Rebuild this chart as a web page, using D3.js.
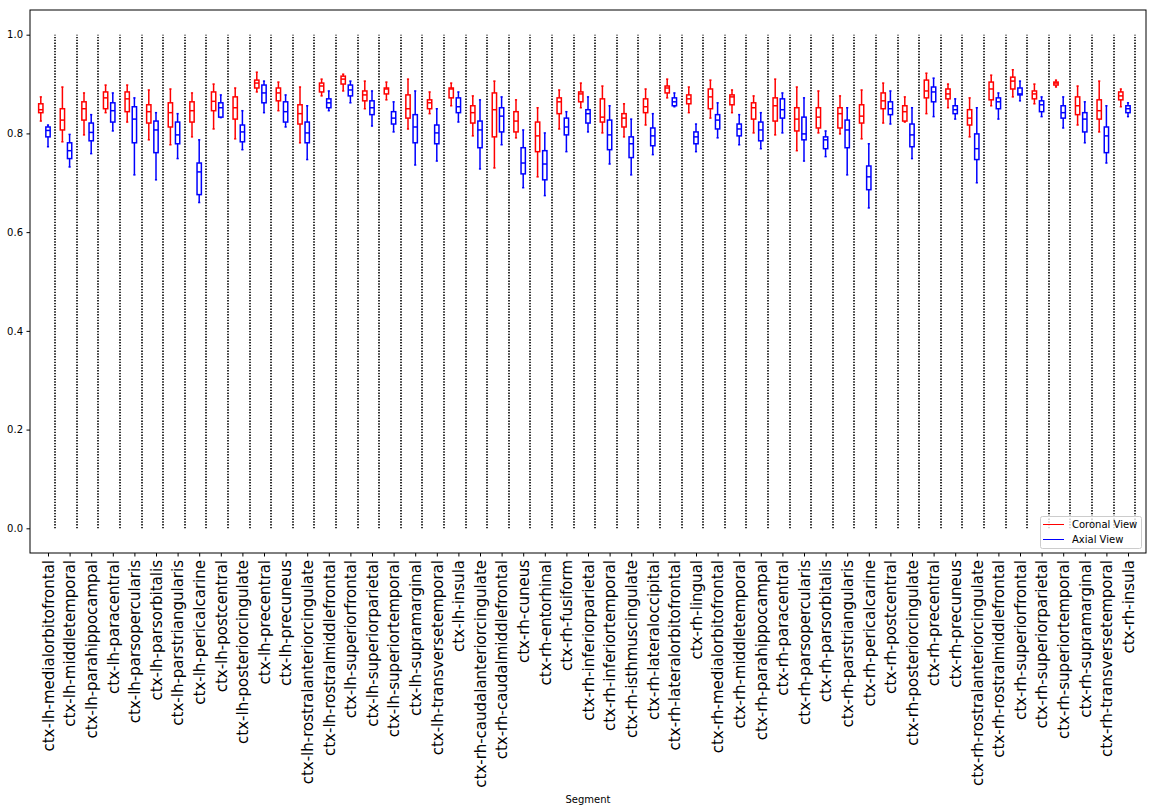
<!DOCTYPE html>
<html lang="en">
<head>
<meta charset="utf-8">
<title>Coronal vs Axial View</title>
<script src="https://d3js.org/d3.v7.min.js"></script>
<style>
    body {
        margin: 0;
        background: white;
    }
    svg {
        display: block;
        font-family: "DejaVu Sans", sans-serif;
    }
    .axis path {
        display: none;
    }
    .axis line {
        stroke: #000;
    }
</style>
</head>
<body>
<div id="chart"></div>
<script>
    var segments = [
        "ctx-lh-medialorbitofrontal", "ctx-lh-middletemporal", "ctx-lh-parahippocampal", "ctx-lh-paracentral",
        "ctx-lh-parsopercularis", "ctx-lh-parsorbitalis", "ctx-lh-parstriangularis", "ctx-lh-pericalcarine",
        "ctx-lh-postcentral", "ctx-lh-posteriorcingulate", "ctx-lh-precentral", "ctx-lh-precuneus",
        "ctx-lh-rostralanteriorcingulate", "ctx-lh-rostralmiddlefrontal", "ctx-lh-superiorfrontal",
        "ctx-lh-superiorparietal", "ctx-lh-superiortemporal", "ctx-lh-supramarginal", "ctx-lh-transversetemporal",
        "ctx-lh-insula", "ctx-rh-caudalanteriorcingulate", "ctx-rh-caudalmiddlefrontal", "ctx-rh-cuneus",
        "ctx-rh-entorhinal", "ctx-rh-fusiform", "ctx-rh-inferiorparietal", "ctx-rh-inferiortemporal",
        "ctx-rh-isthmuscingulate", "ctx-rh-lateraloccipital", "ctx-rh-lateralorbitofrontal", "ctx-rh-lingual",
        "ctx-rh-medialorbitofrontal", "ctx-rh-middletemporal", "ctx-rh-parahippocampal", "ctx-rh-paracentral",
        "ctx-rh-parsopercularis", "ctx-rh-parsorbitalis", "ctx-rh-parstriangularis", "ctx-rh-pericalcarine",
        "ctx-rh-postcentral", "ctx-rh-posteriorcingulate", "ctx-rh-precentral", "ctx-rh-precuneus",
        "ctx-rh-rostralanteriorcingulate", "ctx-rh-rostralmiddlefrontal", "ctx-rh-superiorfrontal",
        "ctx-rh-superiorparietal", "ctx-rh-superiortemporal", "ctx-rh-supramarginal",
        "ctx-rh-transversetemporal", "ctx-rh-insula"
    ];

    // [whisker low, q1, median, q3, whisker high]
    var coronal = [
        [0.825, 0.842, 0.848, 0.860, 0.874], [0.783, 0.807, 0.827, 0.850, 0.894], [0.797, 0.827, 0.850, 0.864, 0.882],
        [0.842, 0.850, 0.872, 0.884, 0.898], [0.823, 0.844, 0.870, 0.884, 0.898], [0.787, 0.821, 0.844, 0.858, 0.888],
        [0.777, 0.813, 0.842, 0.862, 0.890], [0.793, 0.823, 0.846, 0.864, 0.882], [0.809, 0.846, 0.865, 0.884, 0.900],
        [0.789, 0.829, 0.852, 0.874, 0.892], [0.884, 0.892, 0.902, 0.908, 0.924], [0.846, 0.866, 0.882, 0.892, 0.904],
        [0.781, 0.819, 0.840, 0.858, 0.894], [0.876, 0.884, 0.896, 0.902, 0.910], [0.886, 0.900, 0.910, 0.916, 0.920],
        [0.850, 0.866, 0.878, 0.886, 0.906], [0.868, 0.880, 0.890, 0.892, 0.904], [0.809, 0.831, 0.850, 0.878, 0.910],
        [0.840, 0.850, 0.862, 0.868, 0.884], [0.856, 0.872, 0.890, 0.892, 0.902], [0.795, 0.821, 0.842, 0.856, 0.876],
        [0.730, 0.793, 0.848, 0.882, 0.906], [0.791, 0.803, 0.825, 0.844, 0.868], [0.712, 0.763, 0.795, 0.823, 0.852],
        [0.809, 0.840, 0.864, 0.872, 0.888], [0.852, 0.864, 0.880, 0.884, 0.902], [0.801, 0.823, 0.833, 0.870, 0.896],
        [0.793, 0.813, 0.831, 0.840, 0.860], [0.817, 0.842, 0.854, 0.870, 0.890], [0.872, 0.882, 0.892, 0.896, 0.910],
        [0.842, 0.860, 0.870, 0.878, 0.894], [0.831, 0.850, 0.874, 0.890, 0.908], [0.842, 0.858, 0.874, 0.878, 0.888],
        [0.801, 0.829, 0.852, 0.862, 0.876], [0.797, 0.825, 0.856, 0.872, 0.910], [0.765, 0.805, 0.829, 0.852, 0.894],
        [0.801, 0.811, 0.833, 0.852, 0.886], [0.799, 0.811, 0.840, 0.852, 0.876], [0.789, 0.821, 0.835, 0.858, 0.888],
        [0.821, 0.850, 0.866, 0.882, 0.902], [0.823, 0.825, 0.844, 0.856, 0.874], [0.840, 0.872, 0.886, 0.908, 0.922],
        [0.852, 0.870, 0.880, 0.890, 0.900], [0.793, 0.817, 0.831, 0.848, 0.872], [0.856, 0.868, 0.890, 0.904, 0.918],
        [0.874, 0.890, 0.906, 0.914, 0.929], [0.860, 0.870, 0.880, 0.886, 0.900], [0.894, 0.898, 0.902, 0.904, 0.908],
        [0.817, 0.838, 0.856, 0.874, 0.896], [0.803, 0.829, 0.846, 0.868, 0.906], [0.854, 0.868, 0.876, 0.884, 0.890]
    ];

    var axial = [
        [0.773, 0.793, 0.806, 0.813, 0.817], [0.732, 0.749, 0.765, 0.781, 0.798], [0.759, 0.785, 0.802, 0.821, 0.838],
        [0.805, 0.823, 0.846, 0.862, 0.882], [0.716, 0.781, 0.829, 0.854, 0.872], [0.706, 0.761, 0.807, 0.825, 0.842],
        [0.749, 0.779, 0.797, 0.823, 0.840], [0.660, 0.676, 0.722, 0.740, 0.787], [0.832, 0.833, 0.852, 0.862, 0.878],
        [0.767, 0.783, 0.803, 0.817, 0.846], [0.842, 0.862, 0.882, 0.898, 0.906], [0.813, 0.823, 0.844, 0.864, 0.878],
        [0.747, 0.781, 0.801, 0.823, 0.856], [0.846, 0.852, 0.862, 0.870, 0.886], [0.862, 0.876, 0.888, 0.898, 0.906],
        [0.815, 0.838, 0.852, 0.866, 0.886], [0.803, 0.819, 0.831, 0.844, 0.864], [0.736, 0.781, 0.813, 0.838, 0.886],
        [0.744, 0.779, 0.801, 0.817, 0.850], [0.823, 0.842, 0.854, 0.872, 0.884], [0.728, 0.771, 0.807, 0.825, 0.868],
        [0.777, 0.803, 0.835, 0.852, 0.874], [0.690, 0.718, 0.740, 0.771, 0.807], [0.674, 0.706, 0.738, 0.765, 0.801],
        [0.763, 0.797, 0.813, 0.831, 0.844], [0.803, 0.821, 0.840, 0.848, 0.874], [0.738, 0.767, 0.797, 0.827, 0.856],
        [0.716, 0.751, 0.779, 0.793, 0.829], [0.757, 0.775, 0.795, 0.811, 0.840], [0.854, 0.856, 0.864, 0.872, 0.882],
        [0.763, 0.779, 0.793, 0.803, 0.819], [0.791, 0.809, 0.827, 0.838, 0.862], [0.777, 0.795, 0.809, 0.819, 0.838],
        [0.769, 0.785, 0.807, 0.823, 0.842], [0.801, 0.831, 0.848, 0.870, 0.882], [0.744, 0.787, 0.799, 0.833, 0.872],
        [0.753, 0.769, 0.787, 0.793, 0.805], [0.716, 0.771, 0.807, 0.827, 0.852], [0.649, 0.686, 0.712, 0.734, 0.779],
        [0.819, 0.838, 0.850, 0.864, 0.886], [0.749, 0.773, 0.797, 0.819, 0.852], [0.834, 0.864, 0.884, 0.894, 0.912],
        [0.829, 0.840, 0.848, 0.856, 0.870], [0.700, 0.747, 0.769, 0.799, 0.852], [0.829, 0.850, 0.864, 0.872, 0.882],
        [0.866, 0.878, 0.880, 0.892, 0.906], [0.834, 0.844, 0.858, 0.866, 0.874], [0.811, 0.831, 0.842, 0.856, 0.874],
        [0.781, 0.803, 0.829, 0.842, 0.864], [0.740, 0.761, 0.795, 0.813, 0.856], [0.834, 0.842, 0.850, 0.856, 0.862]
    ];

    var yTicks = [0.0, 0.2, 0.4, 0.6, 0.8, 1.0];
    var seriesNames = ["Coronal View", "Axial View"];
    var seriesColors = ["#ff0000", "#0000ff"];

    var width = 1156;
    var height = 812;
    var plotLeft = 30;
    var plotRight = 1146;
    var plotTop = 10;
    var plotBottom = 553;

    var svg = d3.select("#chart").append("svg")
        .attr("width", width)
        .attr("height", height);

    // each segment takes 3 slots: coronal, axial, separator
    var xScale = d3.scaleLinear()
        .domain([-1.5, segments.length * 3 + 0.5])
        .range([plotLeft, plotRight]);

    var yScale = d3.scaleLinear()
        .domain([-0.05, 1.05])
        .range([plotBottom, plotTop]);

    draw_separators();
    draw_boxes(coronal, 0, seriesColors[0]);
    draw_boxes(axial, 1, seriesColors[1]);
    draw_axes();
    draw_legend();

    function draw_separators() {
        svg.append("g").selectAll("line")
            .data(segments)
            .enter()
            .append("line")
            .attr("x1", function(d, i) { return Math.round(xScale(i * 3 + 2)); })
            .attr("x2", function(d, i) { return Math.round(xScale(i * 3 + 2)); })
            .attr("y1", yScale(0))
            .attr("y2", yScale(1))
            .attr("stroke", "#333")
            .attr("stroke-width", 2)
            .attr("stroke-dasharray", "1.4,1.4");
    }

    function draw_boxes(stats, offset, color) {
        var boxHalf = 0.3;
        var capHalf = 0.15;
        var g = svg.append("g")
            .attr("stroke", color)
            .attr("stroke-width", 1.5)
            .attr("fill", "none");

        var items = g.selectAll("g")
            .data(stats)
            .enter()
            .append("g");

        function pos(i) { return i * 3 + offset; }

        // whiskers
        items.append("line")
            .attr("x1", function(d, i) { return xScale(pos(i)); })
            .attr("x2", function(d, i) { return xScale(pos(i)); })
            .attr("y1", function(d) { return yScale(d[0]); })
            .attr("y2", function(d) { return yScale(d[1]); });
        items.append("line")
            .attr("x1", function(d, i) { return xScale(pos(i)); })
            .attr("x2", function(d, i) { return xScale(pos(i)); })
            .attr("y1", function(d) { return yScale(d[3]); })
            .attr("y2", function(d) { return yScale(d[4]); });

        // caps
        [0, 4].forEach(function(k) {
            items.append("line")
                .attr("x1", function(d, i) { return xScale(pos(i) - capHalf); })
                .attr("x2", function(d, i) { return xScale(pos(i) + capHalf); })
                .attr("y1", function(d) { return yScale(d[k]); })
                .attr("y2", function(d) { return yScale(d[k]); });
        });

        // box
        items.append("rect")
            .attr("x", function(d, i) { return xScale(pos(i) - boxHalf); })
            .attr("width", xScale(boxHalf) - xScale(-boxHalf))
            .attr("y", function(d) { return yScale(d[3]); })
            .attr("height", function(d) { return yScale(d[1]) - yScale(d[3]); });

        // median
        items.append("line")
            .attr("x1", function(d, i) { return xScale(pos(i) - boxHalf); })
            .attr("x2", function(d, i) { return xScale(pos(i) + boxHalf); })
            .attr("y1", function(d) { return yScale(d[2]); })
            .attr("y2", function(d) { return yScale(d[2]); });
    }

    function draw_axes() {
        var xAxis = d3.axisBottom(xScale)
            .tickValues(segments.map(function(d, i) { return i * 3 + 1; }))
            .tickFormat(function(d) { return segments[(d - 1) / 3]; })
            .tickSize(3.5);

        var gx = svg.append("g")
            .attr("class", "axis")
            .attr("transform", "translate(0," + plotBottom + ")")
            .call(xAxis);

        gx.selectAll("text")
            .attr("x", -7)
            .attr("y", 0)
            .attr("dy", "0.35em")
            .attr("transform", "rotate(-90)")
            .style("text-anchor", "end")
            .style("font-size", "15px")
            .style("font-family", "'DejaVu Sans', sans-serif")
            .attr("fill", "#000");

        var yAxis = d3.axisLeft(yScale)
            .tickValues(yTicks)
            .tickFormat(d3.format(".1f"))
            .tickSize(3.5)
            .tickPadding(3.5);

        svg.append("g")
            .attr("class", "axis")
            .attr("transform", "translate(" + plotLeft + ",0)")
            .call(yAxis)
            .selectAll("text")
            .style("font-size", "10px")
            .style("font-family", "'DejaVu Sans', sans-serif")
            .attr("fill", "#000");

        svg.append("rect")
            .attr("x", plotLeft)
            .attr("y", plotTop)
            .attr("width", plotRight - plotLeft)
            .attr("height", plotBottom - plotTop)
            .attr("fill", "none")
            .attr("stroke", "#000")
            .attr("stroke-width", 1);

        svg.append("text")
            .text("Segment")
            .attr("x", (plotLeft + plotRight) / 2)
            .attr("y", 799)
            .attr("dy", "0.35em")
            .attr("text-anchor", "middle")
            .attr("font-size", "10px");
    }

    function draw_legend() {
        var lx = 1040.5;
        var ly = 516.5;
        svg.append("rect")
            .attr("x", lx)
            .attr("y", ly)
            .attr("width", 101)
            .attr("height", 32)
            .attr("rx", 2)
            .attr("fill", "white")
            .attr("fill-opacity", 0.8)
            .attr("stroke", "#ccc");

        var rows = svg.append("g").selectAll("g")
            .data(seriesNames)
            .enter()
            .append("g")
            .attr("transform", function(d, i) { return "translate(" + lx + "," + (ly + 8 + i * 15) + ")"; });

        rows.append("line")
            .attr("x1", 2.5)
            .attr("x2", 23.5)
            .attr("stroke", function(d, i) { return seriesColors[i]; })
            .attr("stroke-width", 1);

        rows.append("text")
            .text(function(d) { return d; })
            .attr("x", 31.5)
            .attr("dy", "0.35em")
            .attr("font-size", "10px");
    }
</script>
</body>
</html>
